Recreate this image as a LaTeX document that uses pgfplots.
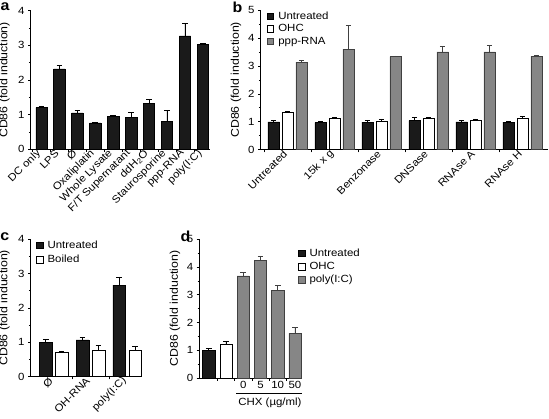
\documentclass[border=0pt]{standalone}
\usepackage{fontspec}
\setmainfont{Liberation Sans}[FakeStretch=1.1]
\usepackage{pgfplots}
\pgfplotsset{compat=1.18}
\usetikzlibrary{calc}

\definecolor{barblack}{HTML}{1A1A1A}
\definecolor{bargray}{HTML}{868686}
\definecolor{edgegray}{HTML}{404040}

\newcommand{\lblfont}{\fontsize{10.4}{12}\selectfont}
\newcommand{\ylblfont}{\fontsize{11.2}{12}\selectfont}

\pgfplotsset{
  panel/.style={
    scale only axis,
    anchor=south west,
    axis x line*=bottom,
    axis y line*=left,
    axis line style={line width=0.6pt, black},
    tick align=outside,
    major tick length=2.6pt,
    minor tick length=1.8pt,
    every tick/.style={line width=0.6pt, black},
    ymin=0,
    clip=false,
    minor y tick num=1,
    /pgf/number format/assume math mode=true,
    tick label style={font=\lblfont},
    label style={font=\ylblfont},
    xticklabels={},
    ylabel={CD86 (fold induction)},
    legend cell align=left,
    legend style={draw=none, fill=none, anchor=north west, inner sep=0pt,
      font=\lblfont, row sep=0.8pt,
      nodes={inner sep=1.5pt, font=\lblfont},
      /tikz/every odd column/.append style={column sep=3pt}},
  },
  sq/.style={legend image code/.code={\draw[##1] (0pt,-3.3pt) rectangle (6.7pt,3.3pt);}},
  blackbar/.style={ybar, fill=barblack, draw=black, line width=0.5pt, sq},
  whitebar/.style={ybar, fill=white, draw=black, line width=0.5pt, sq},
  graybar/.style={ybar, fill=bargray, draw=edgegray, line width=0.5pt, sq},
  errs/.style={error bars/.cd, y dir=plus, y explicit,
    error bar style={line width=0.6pt, #1},
    error mark options={rotate=90, mark size=2.8pt, line width=0.6pt, #1}},
  errs/.default=black,
}

\begin{document}
\begin{tikzpicture}
\useasboundingbox (0pt,0pt) rectangle (549pt,419pt);

% ---------------- panel a ----------------
\begin{axis}[panel,
  at={(30.7pt,269.7pt)}, width=179.3pt, height=138.6pt,
  xmin=-0.6, xmax=9.4, ymax=4, ytick={0,1,2,3,4},
  xtick={-0.5,0.5,...,8.5},
  extra x ticks={0,1,2,3,4,5,6,7,8,9},
  extra x tick labels={DC only, LPS, Ø, Oxaliplatin, Whole Lysate, F/T Supernatant, ddH\textsubscript{2}O, Staurosporine, ppp-RNA, poly(I:C)},
  extra x tick style={major tick length=0pt, tick label style={rotate=45, anchor=east, font=\lblfont}},
  y label style={at={(axis description cs:-0.146,0.5)}, anchor=center},
]
\addplot[blackbar, bar width=0.63, errs] coordinates {
  (0,1.20) +- (0,0.05)
  (1,2.32) +- (0,0.11)
  (2,1.05) +- (0,0.08)
  (3,0.76) +- (0,0.03)
  (4,0.94) +- (0,0.03)
  (5,0.93) +- (0,0.14)
  (6,1.32) +- (0,0.12)
  (7,0.80) +- (0,0.32)
  (8,3.27) +- (0,0.38)
  (9,3.02) +- (0,0.04)
};
\end{axis}

% ---------------- panel b ----------------
\begin{axis}[panel,
  at={(260.7pt,269.3pt)}, width=287.3pt, height=139.7pt,
  xmin=-0.574, xmax=5.54, ymax=5, ytick={0,1,2,3,4,5},
  xtick={-0.5,0.5,...,4.5},
  extra x ticks={0,1,2,3,4,5},
  extra x tick labels={Untreated, 15k x g, Benzonase, DNSase, RNAse A, RNAse H},
  extra x tick style={major tick length=0pt, tick label style={rotate=45, anchor=east, font=\lblfont}},
  y label style={at={(axis description cs:-0.086,0.5)}, anchor=center},
  legend style={at={(axis description cs:0.020,1.0)}},
]
\addplot[blackbar, bar width=0.249, errs] coordinates {
  (-0.298,1.00) +- (0,0.05)
  (0.702,0.97) +- (0,0.03)
  (1.702,0.99) +- (0,0.05)
  (2.702,1.04) +- (0,0.12)
  (3.702,1.00) +- (0,0.05)
  (4.702,0.99) +- (0,0.01)
};
\addlegendentry{Untreated}
\addplot[whitebar, bar width=0.249, errs] coordinates {
  (0,1.34) +- (0,0.03)
  (1,1.11) +- (0,0.06)
  (2,1.03) +- (0,0.07)
  (3,1.12) +- (0,0.03)
  (4,1.07) +- (0,0.03)
  (5,1.11) +- (0,0.08)
};
\addlegendentry{OHC}
\addplot[graybar, bar width=0.249, errs=edgegray] coordinates {
  (0.298,3.13) +- (0,0.06)
  (1.298,3.60) +- (0,0.85)
  (2.298,3.33) +- (0,0.03)
  (3.298,3.50) +- (0,0.21)
  (4.298,3.50) +- (0,0.23)
  (5.298,3.34) +- (0,0.04)
};
\addlegendentry{ppp-RNA}
\end{axis}

% ---------------- panel c ----------------
\begin{axis}[panel,
  at={(30.7pt,42.3pt)}, width=111.3pt, height=137.7pt,
  xmin=-0.625, xmax=2.4, ymax=4, ytick={0,1,2,3,4},
  xtick={0.5,1.5},
  extra x ticks={0,1,2},
  extra x tick labels={Ø, OH-RNA, poly(I:C)},
  extra x tick style={major tick length=0pt, tick label style={rotate=45, anchor=east, font=\lblfont}},
  y label style={at={(axis description cs:-0.235,0.5)}, anchor=center},
  legend style={at={(axis description cs:0.045,1.0)}, row sep=2.5pt},
]
\addplot[blackbar, bar width=0.345, errs] coordinates {
  (-0.217,1.00) +- (0,0.08)
  (0.783,1.07) +- (0,0.06)
  (1.783,2.66) +- (0,0.24)
};
\addlegendentry{Untreated}
\addplot[whitebar, bar width=0.345, errs] coordinates {
  (0.217,0.70) +- (0,0.05)
  (1.217,0.77) +- (0,0.13)
  (2.217,0.77) +- (0,0.10)
};
\addlegendentry{Boiled}
\end{axis}

% ---------------- panel d ----------------
\begin{axis}[panel,
  at={(199.3pt,41pt)}, width=102.4pt, height=138.7pt,
  xmin=-0.545, xmax=5.39, ymax=5, ytick={0,1,2,3,4,5},
  xtick={0.5,1.5,...,4.5},
  extra x ticks={2,3,4,5},
  extra x tick labels={0,5,10,50},
  extra x tick style={major tick length=0pt, tick label style={font=\lblfont}},
  y label style={at={(axis description cs:-0.237,0.5)}, anchor=center},
  legend style={at={(axis description cs:0.96,0.945)}, row sep=1.5pt},
]
\addplot[blackbar, bar width=0.71, errs] coordinates {(0,1.01) +- (0,0.06)};
\addlegendentry{Untreated}
\addplot[whitebar, bar width=0.71, errs] coordinates {(1,1.23) +- (0,0.09)};
\addlegendentry{OHC}
\addplot[graybar, bar width=0.71, errs=edgegray] coordinates {
  (2,3.68) +- (0,0.12)
  (3,4.24) +- (0,0.16)
  (4,3.17) +- (0,0.16)
  (5,1.61) +- (0,0.20)
};
\addlegendentry{poly(I:C)}
\draw[line width=0.6pt] ($(axis cs:1.6,0)+(0pt,-15.3pt)$) -- ($(axis cs:5.39,0)+(0pt,-15.3pt)$);
\node[font=\lblfont] at ($(axis cs:3.55,0)+(0pt,-24.7pt)$) {CHX (µg/ml)};
\end{axis}

% panel letters
\node[font=\fontsize{14.5}{15}\bfseries\selectfont] at (5pt,412.5pt) {a};
\node[font=\fontsize{14.5}{15}\bfseries\selectfont] at (237.5pt,412pt) {b};
\node[font=\fontsize{14.5}{15}\bfseries\selectfont] at (4.7pt,182pt) {c};
\node[font=\fontsize{14.5}{15}\bfseries\selectfont] at (185.5pt,183pt) {d};
\end{tikzpicture}
\end{document}
